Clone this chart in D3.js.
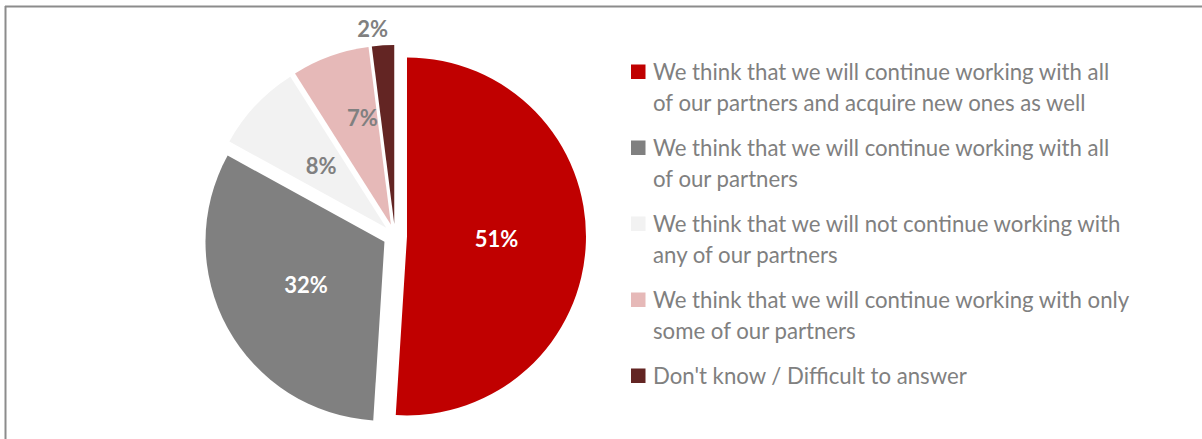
<!DOCTYPE html>
<html>
<head>
<meta charset="utf-8">
<script src="https://cdn.jsdelivr.net/npm/d3@7"></script>
<style>
  html, body { margin: 0; padding: 0; background: #fff; }
  svg { display: block; }
</style>
</head>
<body>
<svg id="chart" width="1202" height="439"></svg>
<script>
// Survey answers (legend text, with the line breaks used in the legend)
const categories = [
  "We think that we will continue working with all\nof our partners and acquire new ones as well",
  "We think that we will continue working with all\nof our partners",
  "We think that we will not continue working with\nany of our partners",
  "We think that we will continue working with only\nsome of our partners",
  "Don't know / Difficult to answer"
];
const shares = [51, 32, 8, 7, 2];
const colors = ["#C00000", "#808080", "#F2F2F2", "#E6B9B8", "#632523"];
const labelColors = ["#FFFFFF", "#FFFFFF", "#808080", "#808080", "#808080"];

const svg = d3.select("#chart");
const W = 1202, H = 439;
const FONT = "Lato, 'Open Sans', sans-serif";

// frame: top and left rules
svg.append("line").attr("x1", 5).attr("x2", W).attr("y1", 6.5).attr("y2", 6.5)
  .attr("stroke", "#8c8c8c").attr("stroke-width", 2);
svg.append("line").attr("x1", 5.5).attr("x2", 5.5).attr("y1", 6).attr("y2", H)
  .attr("stroke", "#8c8c8c").attr("stroke-width", 2);

// pie
const cx = 395, cy = 236, R = 179, explode = 12;
const pie = d3.pie().sort(null).value(d => d)(shares);
const arc = d3.arc().innerRadius(0).outerRadius(R);

const g = svg.append("g").attr("transform", `translate(${cx},${cy})`);

function polar(angle, dist) {
  return [Math.sin(angle) * dist, -Math.cos(angle) * dist];
}
const mid = d => (d.startAngle + d.endAngle) / 2;

g.selectAll("path.slice")
  .data(pie)
  .join("path")
  .attr("class", "slice")
  .attr("fill", (d, i) => colors[i])
  .attr("transform", d => { const [x, y] = polar(mid(d), explode); return `translate(${x},${y})`; })
  .attr("d", arc);

// data labels: halfway out on each slice; the two thin slices get nudged
// outward and towards the larger neighbour so the text stays readable
function labelPos(d, i) {
  if (i === 4) return polar(mid(d) - 0.045, R + 29);
  if (i === 3) return polar(mid(d) + 0.075, 122);
  return polar(mid(d), R * 0.5 + explode);
}
g.selectAll("text.val")
  .data(pie)
  .join("text")
  .attr("class", "val")
  .attr("x", (d, i) => labelPos(d, i)[0])
  .attr("y", (d, i) => labelPos(d, i)[1])
  .attr("dy", "0.36em")
  .attr("text-anchor", "middle")
  .attr("font-family", FONT)
  .attr("font-weight", 700)
  .attr("font-size", 22)
  .attr("fill", (d, i) => labelColors[i])
  .text(d => d.data + "%");

// legend
const legend = svg.append("g").attr("transform", "translate(631,80)");
const lineH = 30.5, gap = 15;
let yPos = 0;
categories.forEach((c, i) => {
  const lines = c.split("\n");
  const item = legend.append("g").attr("transform", `translate(0,${yPos})`);
  item.append("rect").attr("x", 0).attr("y", -15.5).attr("width", 14.5).attr("height", 14.5)
    .attr("fill", colors[i]);
  const t = item.append("text")
    .attr("font-family", FONT)
    .attr("font-size", 22.2)
    .attr("fill", "#808080");
  lines.forEach((ln, j) => {
    t.append("tspan").attr("x", 22).attr("y", j * lineH).text(ln);
  });
  yPos += lines.length * lineH + gap;
});
</script>
</body>
</html>
